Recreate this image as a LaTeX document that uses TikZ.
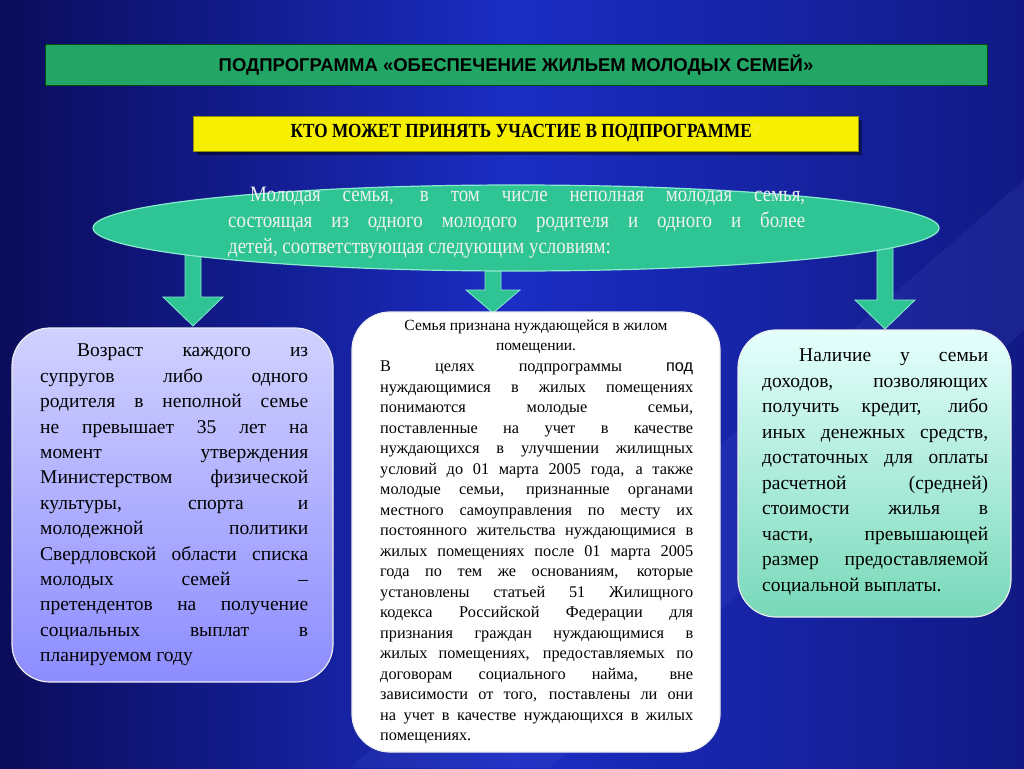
\documentclass[tikz,border=0pt]{standalone}
\usepackage{fontspec}
\setmainfont{Liberation Serif}
\setsansfont{Liberation Sans}
\newfontfamily\narrowserif[FakeStretch=0.86]{Liberation Serif}
\usetikzlibrary{shapes.geometric}
\definecolor{bgdark}{HTML}{0B0C5A}
\definecolor{bgblue}{HTML}{1B2DC4}
\definecolor{bannergreen}{HTML}{22A565}
\definecolor{teal}{HTML}{2EC493}
\definecolor{tealedge}{HTML}{8CEBCF}
\definecolor{ylw}{HTML}{F6F000}
\newlength\lw
\newcommand\jl[1]{\makebox[\lw][s]{#1}\\}
\tikzset{
 boxshape/.style={rounded corners=38pt, draw=white!85!gray, line width=1.2pt},
 txt/.style={anchor=north west, inner sep=0pt, align=left},
 garrow/.style={fill=teal, draw=tealedge, line width=0.8pt}
}
\begin{document}
\begin{tikzpicture}[x=1pt,y=-1pt]
\useasboundingbox (0,0) rectangle (1024,768);
\shade[left color=bgdark, right color=bgdark!60!bgblue, middle color=bgblue] (0,0) rectangle (1024,768);
\fill[bgblue!70!white, opacity=0.12] (350,768) -- (1024,180) -- (1024,330) -- (550,768) -- cycle;
% banner
\node[draw=black!70!green, line width=1pt, fill=bannergreen, minimum width=942pt, minimum height=40pt, inner sep=0pt, font=\sffamily\bfseries\fontsize{18.5}{20}\selectfont] (banner) at (516,65) {ПОДПРОГРАММА «ОБЕСПЕЧЕНИЕ ЖИЛЬЕМ МОЛОДЫХ СЕМЕЙ»};
% yellow box
\fill[black, opacity=0.45] (197,120) rectangle (862,155);
\node[draw=ylw!60!black, fill=ylw, minimum width=665pt, minimum height=35pt, inner sep=0pt, font=\narrowserif\bfseries\fontsize{20}{22}\selectfont] (who) at (525.5,133.5) {КТО МОЖЕТ ПРИНЯТЬ УЧАСТИЕ В ПОДПРОГРАММЕ\textcolor{ylw!80!white}{?}};
% arrows
\draw[garrow] (185,240) -- (201,240) -- (201,297) -- (223,297) -- (193,326) -- (163,297) -- (185,297) -- cycle;
\draw[garrow] (485,240) -- (501,240) -- (501,290) -- (520,290) -- (493,313) -- (466,290) -- (485,290) -- cycle;
\draw[garrow] (877,240) -- (893,240) -- (893,300) -- (915,300) -- (885,329) -- (855,300) -- (877,300) -- cycle;
% ellipse
\node[ellipse, draw=tealedge, line width=1.2pt, fill=teal, minimum width=846pt, minimum height=86pt, inner sep=0pt] (oval) at (516,228) {};
\setlength\lw{577pt}
\node[txt, font=\narrowserif\fontsize{22}{26}\selectfont, text=white!88!gray] (ovaltext) at (228,187) {\jl{\hspace{22pt}Молодая семья, в том числе неполная молодая семья,}\jl{состоящая из одного молодого родителя и одного и более}детей, соответствующая следующим условиям:};
% left box
\shade[boxshape, top color=blue!18!white, bottom color=blue!45!white] (12,328) rectangle (333,682);
\node (leftbox) at (172.5,505) {};
\setlength\lw{268pt}
\node[txt, font=\fontsize{19.5}{25.4}\selectfont] (lefttext) at (40,344) {\jl{\hspace{37pt}Возраст каждого из}\jl{супругов либо одного}\jl{родителя в неполной семье}\jl{не превышает 35 лет на}\jl{момент утверждения}\jl{Министерством физической}\jl{культуры, спорта и}\jl{молодежной политики}\jl{Свердловской области списка}\jl{молодых семей –}\jl{претендентов на получение}\jl{социальных выплат в}планируемом году};
% middle box
\fill[boxshape, fill=white] (352,312) rectangle (720,752);
\node (midbox) at (536,532) {};
\setlength\lw{313pt}
\node[anchor=north, inner sep=0pt, align=center, font=\fontsize{15.5}{20}\selectfont] (midtitle) at (536,320) {Семья признана нуждающейся в жилом\\помещении.};
\node[txt, font=\fontsize{16.3}{20.5}\selectfont] (midtext) at (380,361) {\jl{В целях подпрограммы {\sffamily под}}\jl{нуждающимися в жилых помещениях}\jl{понимаются молодые семьи,}\jl{поставленные на учет в качестве}\jl{нуждающихся в улучшении жилищных}\jl{условий до 01 марта 2005 года, а также}\jl{молодые семьи, признанные органами}\jl{местного самоуправления по месту их}\jl{постоянного жительства нуждающимися в}\jl{жилых помещениях после 01 марта 2005}\jl{года по тем же основаниям, которые}\jl{установлены статьей 51 Жилищного}\jl{кодекса Российской Федерации для}\jl{признания граждан нуждающимися в}\jl{жилых помещениях, предоставляемых по}\jl{договорам социального найма, вне}\jl{зависимости от того, поставлены ли они}\jl{на учет в качестве нуждающихся в жилых}помещениях.};
% right box
\shade[boxshape, top color=green!8!cyan!10!white, bottom color=teal!65!white] (738,330) rectangle (1011,617);
\node (rightbox) at (874.5,473) {};
\setlength\lw{226pt}
\node[txt, font=\fontsize{19.5}{25.5}\selectfont] (righttext) at (762,349) {\jl{\hspace{37pt}Наличие у семьи}\jl{доходов, позволяющих}\jl{получить кредит, либо}\jl{иных денежных средств,}\jl{достаточных для оплаты}\jl{расчетной (средней)}\jl{стоимости жилья в}\jl{части, превышающей}\jl{размер предоставляемой}социальной выплаты.};
\end{tikzpicture}
\end{document}
